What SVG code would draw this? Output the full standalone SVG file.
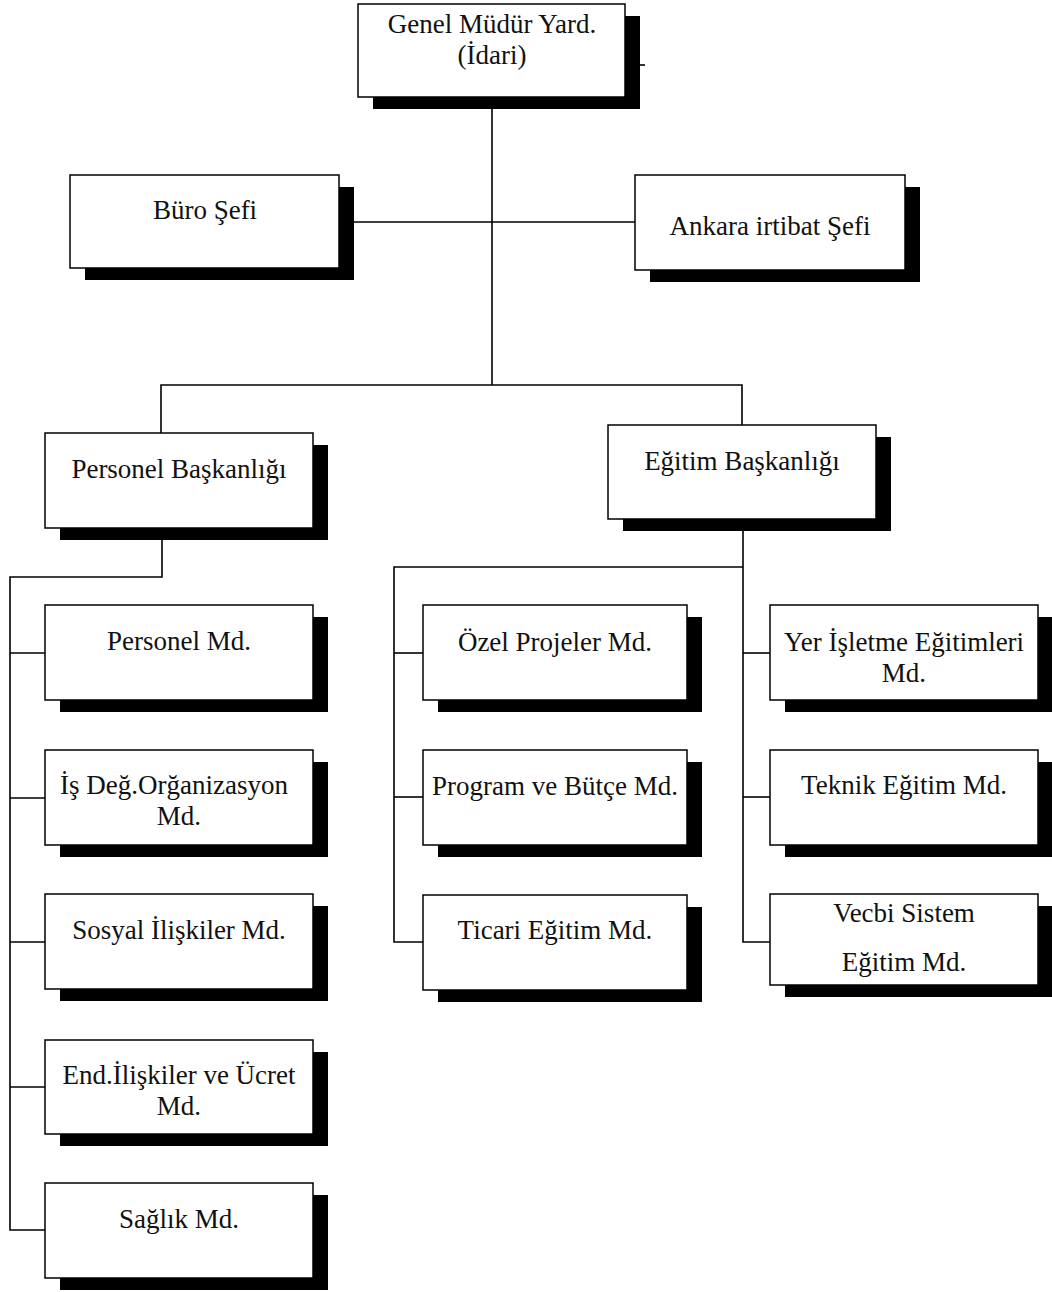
<svg xmlns="http://www.w3.org/2000/svg" width="1052" height="1292" viewBox="0 0 1052 1292">
  <style>
    .bg { fill: #ffffff; }
    .shadow { fill: #000000; }
    .box { fill: #ffffff; stroke: #000000; stroke-width: 1.5; }
    .link { fill: none; stroke: #000000; stroke-width: 1.6; }
    .label { font-family: "Liberation Serif", "Times New Roman", serif; font-size: 27px; fill: #111111; text-anchor: middle; }
  </style>
  <rect class="bg" x="0" y="0" width="1052" height="1292"/>

  <!-- connectors -->
  <g id="connectors">
    <!-- top trunk and staff branches -->
    <path class="link" d="M492 97 V385"/>
    <path class="link" d="M339 222 H635"/>
    <path class="link" d="M640 65 H645"/>
    <!-- split to the two departments -->
    <path class="link" d="M161 433 V385 H742 V425"/>
    <!-- Personel Başkanlığı children -->
    <path class="link" d="M162 528 V577 H10 V1230 H45"/>
    <path class="link" d="M10 653 H45"/>
    <path class="link" d="M10 798 H45"/>
    <path class="link" d="M10 942 H45"/>
    <path class="link" d="M10 1087 H45"/>
    <!-- Eğitim Başkanlığı children -->
    <path class="link" d="M743 519 V942 H770"/>
    <path class="link" d="M743 567 H394 V942 H423"/>
    <path class="link" d="M394 653 H423"/>
    <path class="link" d="M394 797 H423"/>
    <path class="link" d="M743 653 H770"/>
    <path class="link" d="M743 797 H770"/>
  </g>

  <!-- nodes: shadow is the box shifted 15 right, 12 down -->
  <g id="genel-mudur-yard">
    <rect class="shadow" x="373" y="16" width="267" height="93"/>
    <rect class="box" x="358" y="4" width="267" height="93"/>
    <text class="label" x="492" y="33">Genel Müdür Yard.</text>
    <text class="label" x="492" y="64">(İdari)</text>
  </g>

  <g id="buro-sefi">
    <rect class="shadow" x="85" y="187" width="269" height="93"/>
    <rect class="box" x="70" y="175" width="269" height="93"/>
    <text class="label" x="205" y="219">Büro Şefi</text>
  </g>

  <g id="ankara-irtibat-sefi">
    <rect class="shadow" x="650" y="187" width="270" height="95"/>
    <rect class="box" x="635" y="175" width="270" height="95"/>
    <text class="label" x="770" y="235">Ankara irtibat Şefi</text>
  </g>

  <g id="personel-baskanligi">
    <rect class="shadow" x="60" y="445" width="268" height="95"/>
    <rect class="box" x="45" y="433" width="268" height="95"/>
    <text class="label" x="179" y="478">Personel Başkanlığı</text>
  </g>

  <g id="egitim-baskanligi">
    <rect class="shadow" x="623" y="437" width="268" height="94"/>
    <rect class="box" x="608" y="425" width="268" height="94"/>
    <text class="label" x="742" y="470">Eğitim Başkanlığı</text>
  </g>

  <!-- left column -->
  <g id="personel-md">
    <rect class="shadow" x="60" y="617" width="268" height="95"/>
    <rect class="box" x="45" y="605" width="268" height="95"/>
    <text class="label" x="179" y="650">Personel Md.</text>
  </g>

  <g id="is-deg-organizasyon-md">
    <rect class="shadow" x="60" y="762" width="268" height="95"/>
    <rect class="box" x="45" y="750" width="268" height="95"/>
    <text class="label" x="174" y="794">İş Değ.Orğanizasyon</text>
    <text class="label" x="179" y="825">Md.</text>
  </g>

  <g id="sosyal-iliskiler-md">
    <rect class="shadow" x="60" y="906" width="268" height="95"/>
    <rect class="box" x="45" y="894" width="268" height="95"/>
    <text class="label" x="179" y="939">Sosyal İlişkiler Md.</text>
  </g>

  <g id="end-iliskiler-ucret-md">
    <rect class="shadow" x="60" y="1052" width="268" height="94"/>
    <rect class="box" x="45" y="1040" width="268" height="94"/>
    <text class="label" x="179" y="1084">End.İlişkiler ve Ücret</text>
    <text class="label" x="179" y="1115">Md.</text>
  </g>

  <g id="saglik-md">
    <rect class="shadow" x="60" y="1195" width="268" height="95"/>
    <rect class="box" x="45" y="1183" width="268" height="95"/>
    <text class="label" x="179" y="1228">Sağlık Md.</text>
  </g>

  <!-- middle column -->
  <g id="ozel-projeler-md">
    <rect class="shadow" x="438" y="617" width="264" height="95"/>
    <rect class="box" x="423" y="605" width="264" height="95"/>
    <text class="label" x="555" y="651">Özel Projeler Md.</text>
  </g>

  <g id="program-butce-md">
    <rect class="shadow" x="438" y="762" width="264" height="95"/>
    <rect class="box" x="423" y="750" width="264" height="95"/>
    <text class="label" x="555" y="795">Program ve Bütçe Md.</text>
  </g>

  <g id="ticari-egitim-md">
    <rect class="shadow" x="438" y="907" width="264" height="95"/>
    <rect class="box" x="423" y="895" width="264" height="95"/>
    <text class="label" x="555" y="939">Ticari Eğitim Md.</text>
  </g>

  <!-- right column -->
  <g id="yer-isletme-egitimleri-md">
    <rect class="shadow" x="785" y="617" width="268" height="95"/>
    <rect class="box" x="770" y="605" width="268" height="95"/>
    <text class="label" x="904" y="651">Yer İşletme Eğitimleri</text>
    <text class="label" x="904" y="682">Md.</text>
  </g>

  <g id="teknik-egitim-md">
    <rect class="shadow" x="785" y="762" width="268" height="95"/>
    <rect class="box" x="770" y="750" width="268" height="95"/>
    <text class="label" x="904" y="794">Teknik Eğitim Md.</text>
  </g>

  <g id="vecbi-sistem-egitim-md">
    <rect class="shadow" x="785" y="906" width="268" height="91"/>
    <rect class="box" x="770" y="894" width="268" height="91"/>
    <text class="label" x="904" y="922">Vecbi Sistem</text>
    <text class="label" x="904" y="971">Eğitim Md.</text>
  </g>
</svg>
